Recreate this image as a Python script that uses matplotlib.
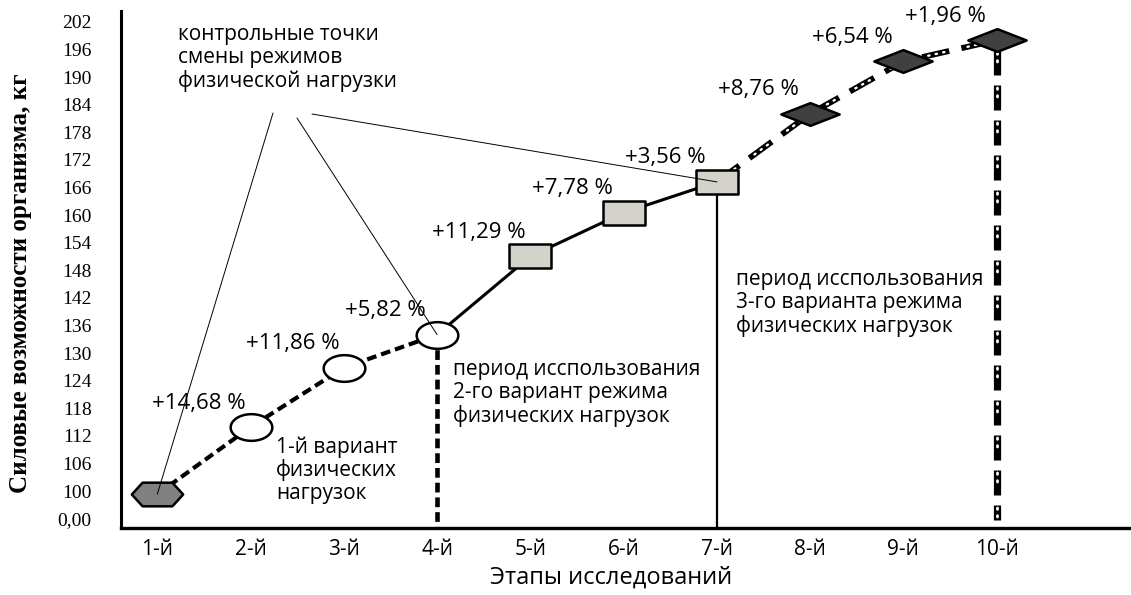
import matplotlib
matplotlib.use('Agg')
import matplotlib.pyplot as plt
from matplotlib.path import Path
from matplotlib import font_manager
import numpy as np

# ---------------- data ----------------
stages = ['1-й', '2-й', '3-й', '4-й', '5-й', '6-й', '7-й', '8-й', '9-й', '10-й']
strength = [99.3, 113.9, 126.8, 134.0, 151.0, 160.5, 167.2, 182.0, 193.4, 198.0]
growth = ['', '+14,68 %', '+11,86 %', '+5,82 %', '+11,29 %', '+7,78 %',
          '+3,56 %', '+8,76 %', '+6,54 %', '+1,96 %']
ytick_vals = [94] + list(range(100, 203, 6))
ytick_labels = ['0,00'] + [str(v) for v in range(100, 203, 6)]

plt.rcParams['lines.scale_dashes'] = False
avail = {f.name for f in font_manager.fontManager.ttflist}
SANS = 'Open Sans' if 'Open Sans' in avail else 'DejaVu Sans'
SERIF = 'Liberation Serif' if 'Liberation Serif' in avail else 'DejaVu Serif'

W, H = 1131, 595
fig = plt.figure(figsize=(W / 100, H / 100), dpi=100)
L, R, B, T = 121, 1130, 528, 11
ax = fig.add_axes([L / W, 1 - B / H, (R - L) / W, (B - T) / H])

x = np.arange(len(stages))

# custom markers
hexa = Path([(-1, 0), (-0.58, 0.46), (0.58, 0.46), (1, 0), (0.58, -0.46),
             (-0.58, -0.46), (-1, 0)], closed=True)
t = np.linspace(0, 2 * np.pi, 60)
ell = Path(np.column_stack([np.cos(t), 0.64 * np.sin(t)]), closed=True)
rect = Path([(-1, -0.58), (1, -0.58), (1, 0.58), (-1, 0.58), (-1, -0.58)], closed=True)
diam = Path([(-1, 0), (0, 0.39), (1, 0), (0, -0.39), (-1, 0)], closed=True)

ylo, yhi = 91.96, 204.35

# ---- lines ----
# phase 1 : dashed
ax.plot(x[0:4], strength[0:4], color='black', lw=3.0, ls=(0, (7, 3.6)),
        solid_capstyle='butt', dash_capstyle='butt', zorder=2)
# phase 2 : solid
ax.plot(x[3:7], strength[3:7], color='black', lw=2.2, zorder=2)
# phase 3 : hatched dashes (black with white dots)
ax.plot(x[6:10], strength[6:10], color='black', lw=4.2, ls=(0, (20, 9)),
        dash_capstyle='butt', zorder=2)
ax.plot(x[6:10], strength[6:10], color='white', lw=1.7,
        ls=(29 - 4.5, (1.0, 4.5, 1.0, 4.5, 1.0, 29 - 12)),
        dash_capstyle='round', zorder=2.1)

# vertical separators
ax.plot([x[3], x[3]], [strength[3], ylo], color='black', lw=3.3,
        ls=(0, (7, 3.6)), dash_capstyle='butt', zorder=1.5)
ax.plot([x[6], x[6]], [strength[6], ylo], color='black', lw=1.6, zorder=1.5)
ax.plot([x[9], x[9]], [strength[9], 93.8], color='black', lw=5.2,
        ls=(18, (18, 7.2)), dash_capstyle='butt', zorder=1.5)
ax.plot([x[9], x[9]], [strength[9], 93.8], color='white', lw=2.0,
        ls=(18 + 7.2 - 3.5, (1.0, 4.5, 1.0, 4.5, 1.0, 25.2 - 12)),
        dash_capstyle='round', zorder=1.6)

# ---- markers ----
mew = 1.8
ax.plot(x[0:1], strength[0:1], ls='none', marker=hexa, ms=37, mfc='#808080',
        mec='black', mew=mew, zorder=4)
ax.plot(x[1:4], strength[1:4], ls='none', marker=ell, ms=30, mfc='white',
        mec='black', mew=mew, zorder=4)
ax.plot(x[4:7], strength[4:7], ls='none', marker=rect, ms=30, mfc='#d3d3cb',
        mec='black', mew=mew, zorder=4)
ax.plot(x[7:10], strength[7:10], ls='none', marker=diam, ms=42, mfc='#404040',
        mec='black', mew=mew, zorder=4)

# ---- percent labels ----
for xi, yi, g in zip(x, strength, growth):
    if g:
        ax.text(xi - 0.55, yi + 5.2, g, ha='center', va='center',
                fontsize=16, family=SANS, zorder=5)


def af(px, py):
    return ((px - L) / (R - L), (B - py) / (B - T))


txt_kw = dict(fontsize=15, family=SANS, ha='left', va='center', linespacing=1.1,
              transform=ax.transAxes, zorder=5)
ax.text(*af(178, 58), 'контрольные точки\nсмены режимов\nфизической нагрузки', **txt_kw)
ax.text(*af(276, 470), '1-й вариант\nфизических\nнагрузок', **txt_kw)
ax.text(*af(453, 393), 'период исспользования\n2-го вариант режима\nфизических нагрузок', **txt_kw)
ax.text(*af(736, 303), 'период исспользования\n3-го варианта режима\nфизических нагрузок', **txt_kw)

# pointer lines from the caption to the control points
for (px, py), k in zip([(273, 113), (297, 118), (312, 114)], [0, 3, 6]):
    ax.annotate('', xy=(x[k], strength[k]), xycoords='data',
                xytext=af(px, py), textcoords='axes fraction',
                arrowprops=dict(arrowstyle='-', color='black', lw=0.7,
                                shrinkA=0, shrinkB=0), zorder=6)

# ---- axes ----
ax.set_xlim(-0.389, 10.43)
ax.set_ylim(ylo, yhi)
ax.set_xticks(x)
ax.set_xticklabels(stages, fontsize=15, family=SANS)
ax.set_yticks(ytick_vals)
ax.set_yticklabels(ytick_labels, fontsize=14, family=SERIF)
ax.tick_params(axis='both', length=0)
ax.tick_params(axis='y', pad=21)
ax.tick_params(axis='x', pad=8)
for s in ['top', 'right']:
    ax.spines[s].set_visible(False)
ax.spines['left'].set_linewidth(2.2)
ax.spines['bottom'].set_linewidth(2.4)

fig.text(611 / W, 1 - 578 / H, 'Этапы исследований', ha='center', va='center',
         fontsize=17, family=SANS)
fig.text(21 / W, 1 - 283 / H, 'Силовые возможности организма, кг', ha='center',
         va='center', rotation=90, fontsize=18, family=SERIF, fontweight='bold')

fig.savefig('out.png', dpi=100)
